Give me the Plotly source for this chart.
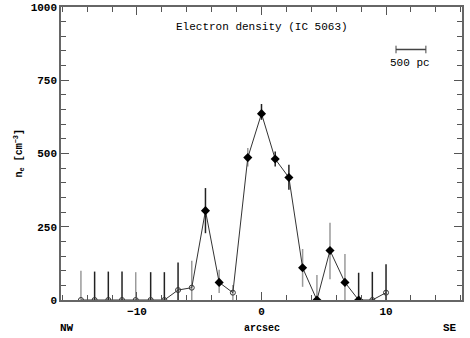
import plotly.graph_objects as go

# offset along slit (arcsec) and electron density (cm^-3)
offset = [-14.5, -13.4, -12.3, -11.2, -10.1, -8.9, -7.8, -6.7, -5.6, -4.5, -3.4, -2.3,
          -1.1, 0.0, 1.1, 2.2, 3.3, 4.45, 5.5, 6.7, 7.8, 8.9, 10.0]
ne = [0, 0, 0, 0, 0, 0, 0, 34, 42, 305, 60, 25,
      486, 636, 481, 418, 110, 0, 169, 60, 0, 0, 25]
err_up = [100, 97, 97, 97, 95, 95, 95, 94, 92, 77, 43, 26,
          33, 33, 26, 44, 64, 85, 95, 97, 93, 96, 97]
err_lo = [0, 0, 0, 0, 0, 0, 0, 34, 42, 77, 36, 25,
          30, 21, 25, 42, 65, 0, 98, 60, 0, 0, 25]
measured = [False, False, False, False, False, False, False, False, False, True, True, False,
            True, True, True, True, True, True, True, True, True, False, False]

y_ticks = [0, 250, 500, 750, 1000]
x_ticks = [-10, 0, 10]
x_ticktext = ["\u221210", "0", "10"]

# error bars drawn light gray for these points, dark for the rest
gray_bars = {0, 4, 8, 10, 11, 12, 16, 17, 18, 19}

FONT = "Liberation Mono"

fig = go.Figure()

for shade, keep in (("#9a9a9a", True), ("#222222", False)):
    idx = [i for i in range(len(offset)) if (i in gray_bars) == keep]
    fig.add_trace(go.Scatter(
        x=[offset[i] for i in idx], y=[ne[i] for i in idx],
        mode="markers", marker=dict(size=1, color="rgba(0,0,0,0)"),
        error_y=dict(type="data", symmetric=False,
                     array=[err_up[i] for i in idx],
                     arrayminus=[err_lo[i] for i in idx],
                     color=shade, thickness=1.5, width=0),
        showlegend=False, hoverinfo="skip",
    ))

fig.add_trace(go.Scatter(x=offset, y=ne, mode="lines",
                         line=dict(color="#333333", width=1), showlegend=False))

fill = [i for i, m in enumerate(measured) if m]
opn = [i for i, m in enumerate(measured) if not m]
fig.add_trace(go.Scatter(x=[offset[i] for i in fill], y=[ne[i] for i in fill],
                         mode="markers", showlegend=False,
                         marker=dict(symbol="diamond", size=7, color="black")))
fig.add_trace(go.Scatter(x=[offset[i] for i in opn], y=[ne[i] for i in opn],
                         mode="markers", showlegend=False,
                         marker=dict(symbol="circle-open", size=5, color="#333333",
                                     line=dict(width=1))))

axis_common = dict(showgrid=False, zeroline=False, showline=True, linecolor="#666666",
                   linewidth=1.5, mirror="allticks", ticks="inside", tickcolor="#555555",
                   tickwidth=1, automargin=False,
                   tickfont=dict(family=FONT, size=11, color="black", weight="bold"))

fig.update_xaxes(range=[-16.1, 16.1], tickvals=x_ticks, ticktext=x_ticktext, ticklen=8,
                 minor=dict(dtick=2, tick0=0, ticks="inside", ticklen=5, tickcolor="#555555"),
                 **axis_common)
fig.update_yaxes(range=[0, 1000], tickvals=y_ticks, ticklen=8,
                 minor=dict(dtick=50, tick0=0, ticks="inside", ticklen=5, tickcolor="#555555"),
                 **axis_common)

txt = dict(family=FONT, size=11, color="black")
bold = dict(family=FONT, size=11, color="black", weight="bold")


def label(text, x, y, font, **kw):
    fig.add_annotation(text=text, x=x, y=y, xref="paper", yref="paper", showarrow=False,
                       xanchor="center", yanchor="middle", font=font, **kw)


label("Electron density (IC 5063)", 0.5, 0.932, txt)
label("arcsec", 0.5, -0.096, dict(family=FONT, size=10, color="black", weight="bold"))
label("NW", 0.015, -0.096, bold)
label("SE", 0.97, -0.096, bold)
label("n<sub>e</sub> [cm<sup>\u22123</sup>]", -0.107, 0.5,
      dict(family=FONT, size=10, color="black", weight="bold"), textangle=-90)

# 500 pc scale bar
fig.add_shape(type="line", x0=10.8, x1=13.2, y0=855, y1=855, line=dict(color="#444444", width=1.5))
for xe in (10.8, 13.2):
    fig.add_shape(type="line", x0=xe, x1=xe, y0=842, y1=868, line=dict(color="#444444", width=1))
fig.add_annotation(text="500 pc", x=11.9, y=809, showarrow=False, font=txt,
                   xanchor="center", yanchor="middle")

fig.update_layout(width=470, height=338, margin=dict(l=61, r=8, t=7, b=38),
                  paper_bgcolor="white", plot_bgcolor="white")

fig.write_html("out.html", config={"displayModeBar": False},
               post_script="document.body.style.margin='0px';")
